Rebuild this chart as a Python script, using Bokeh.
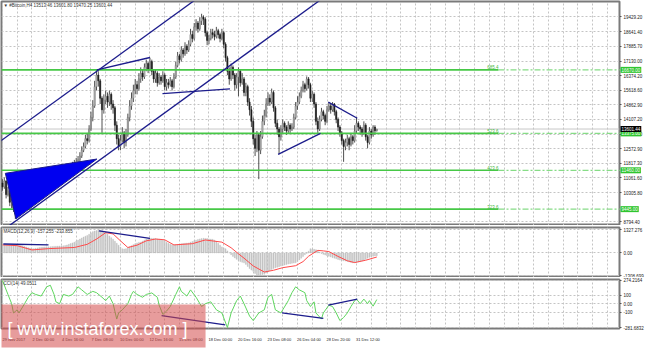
from bokeh.plotting import figure
from bokeh.layouts import column
from bokeh.models import Range1d, FixedTicker, LinearAxis, Label, Span
from bokeh.core.properties import value
from bokeh.embed import file_html
from bokeh.resources import INLINE

FONT = "Liberation Sans"

# ---------------- price data (H4 bars, index 0 = 29 Nov 2017 08:00) ----------------
open0 = 10800
close = [10600, 10900, 10200, 10400, 9800, 10000, 9500, 9200, 9600, 9800,
         9700, 9500, 9900, 10000, 10300, 10200, 10600, 10500, 10700, 10900,
         10700, 10800, 10900, 11000, 10800, 11200, 11100, 11000, 11200, 11100,
         11300, 11200, 11400, 11300, 11500, 11400, 11600, 11500, 11700, 11800,
         11900, 12000, 12200, 12500, 12700, 13100, 13000, 13600, 14200, 14800,
         15800, 16400, 16100, 15200, 14600, 15100, 15300, 15000, 15400, 14900,
         14700, 13800, 13100, 12700, 13000, 13400, 12900, 13300, 14200, 14800,
         15200, 15600, 15900, 15700, 16200, 16500, 16300, 16800, 17000, 16700,
         17100, 16600, 16200, 16500, 16000, 16300, 16100, 16400, 15800, 16000,
         15900, 16100, 15800, 16300, 16900, 17400, 17200, 17700, 17500, 17900,
         17700, 18000, 18500, 18300, 18900, 19100, 18800, 19200, 19400, 19300,
         18600, 18200, 18300, 18600, 18500, 18400, 18700, 18500, 18300, 18600,
         18000, 17300, 16600, 16200, 16800, 16400, 15900, 16300, 16600, 16000,
         16200, 15500, 15800, 15000, 14600, 14000, 13100, 12600, 13300, 12500,
         13200, 14000, 14300, 14900, 15200, 15000, 15500, 14700, 13900, 13600,
         13200, 13600, 13900, 13700, 13500, 13800, 13600, 13700, 14200, 14800,
         15000, 15300, 15600, 15900, 15700, 16200, 15900, 15200, 15400, 14900,
         14000, 13600, 14100, 14500, 14300, 14000, 14600, 14800, 14600, 14900,
         14500, 14100, 13700, 13400, 13000, 12700, 12900, 13100, 12800, 13200,
         13000, 13500, 13900, 13700, 13600, 13400, 13800, 13200, 12900, 13500,
         13300, 13700, 13513.46, 13601.44]
high = [11000, 11100, 10950, 10600, 10500, 10200, 10100, 9700, 9800, 10000,
        10100, 9900, 10100, 10300, 10500, 10500, 10800, 10800, 10900, 11100,
        11000, 11000, 11100, 11200, 11100, 11500, 11400, 11300, 11400, 11300,
        11500, 11400, 11600, 11500, 11700, 11600, 11800, 11700, 11900, 12000,
        12100, 12200, 12400, 12700, 12900, 13300, 13400, 13800, 14500, 15100,
        16100, 16670, 16600, 16200, 15300, 15400, 15600, 15500, 15600, 15500,
        15100, 14800, 14000, 13300, 13300, 13700, 13500, 13600, 14400, 15100,
        15500, 15900, 16200, 16100, 16500, 16800, 16700, 17000, 17200, 17100,
        17300, 17200, 16700, 16700, 16600, 16500, 16400, 16600, 16500, 16200,
        16200, 16300, 16200, 16500, 17100, 17600, 17500, 17900, 17800, 18100,
        18000, 18200, 18800, 18700, 19100, 19300, 19200, 19400, 19580, 19500,
        19400, 18700, 18500, 18800, 18800, 18700, 18900, 18800, 18600, 18800,
        18700, 18100, 17400, 16800, 17000, 16900, 16500, 16500, 16800, 16700,
        16500, 16300, 16000, 15900, 15200, 14800, 14200, 13300, 13500, 13400,
        13500, 14300, 14600, 15200, 15500, 15400, 15700, 15600, 14800, 14100,
        13700, 13800, 14100, 14000, 13800, 14000, 13900, 13900, 14400, 15000,
        15300, 15500, 15800, 16100, 16000, 16330, 16300, 16000, 15600, 15500,
        15000, 14200, 14300, 14700, 14600, 14400, 14800, 15000, 14900, 15000,
        14950, 14600, 14200, 13800, 13500, 13100, 13100, 13300, 13200, 13400,
        13300, 13800, 14200, 14000, 13800, 13700, 14000, 13900, 13300, 13700,
        13600, 13800, 13800, 13601.80]
low = [10400, 10500, 10000, 10100, 9600, 9500, 9300, 8940, 9100, 9400,
       9500, 9300, 9400, 9700, 9900, 10000, 10100, 10300, 10400, 10600,
       10500, 10600, 10700, 10800, 10600, 10700, 10900, 10800, 10900, 10900,
       11000, 11000, 11100, 11100, 11200, 11200, 11300, 11300, 11400, 11600,
       11700, 11800, 11900, 12100, 12400, 12600, 12800, 12900, 13500, 14000,
       14700, 15600, 15800, 14900, 13400, 14400, 14900, 14700, 14800, 14600,
       14400, 13500, 12800, 12500, 12500, 12900, 12600, 12700, 13200, 14000,
       14600, 15000, 15400, 15400, 15600, 16000, 16100, 16200, 16600, 16500,
       16600, 16400, 16000, 16000, 15800, 15900, 15900, 16000, 15600, 15600,
       15700, 15800, 15600, 15700, 16200, 16800, 17000, 17100, 17300, 17400,
       17500, 17600, 17900, 18100, 18200, 18700, 18600, 18700, 19000, 19000,
       18400, 17950, 18000, 18200, 18300, 18200, 18300, 18300, 18100, 18200,
       17800, 17100, 16400, 15900, 16100, 16200, 15600, 15700, 15300, 15800,
       15900, 15300, 15300, 14800, 14300, 13700, 12800, 12200, 12400, 11000,
       12300, 13100, 13800, 14200, 14800, 14800, 14900, 14500, 13700, 13300,
       12300, 13000, 13400, 13500, 13300, 13400, 13400, 13500, 13600, 14100,
       14600, 14900, 15200, 15500, 15500, 15600, 15700, 15000, 15000, 14700,
       13800, 13400, 13500, 14000, 14100, 13800, 13900, 14500, 14400, 14500,
       14300, 13900, 13500, 13200, 12800, 11900, 12500, 12700, 12500, 12700,
       12800, 12900, 13400, 13500, 13300, 13200, 13300, 13000, 12600, 12800,
       13100, 13200, 13300, 13470.25]

# MACD(12,26,9) main values as histogram, one per bar
macd_hist = [460, 455, 450, 440, 430, 420, 430, 440, 455, 465,
             450, 420, 380, 340, 300, 270, 245, 250, 270, 290,
             310, 330, 340, 350, 355, 355, 360, 370, 380, 390,
             395, 400, 405, 410, 430, 460, 500, 540, 580, 625,
             680, 740, 800, 860, 920, 970, 1010, 1080, 1160, 1230,
             1270, 1290, 1310, 1327, 1300, 1255, 1180, 1080, 980, 880,
             790, 680, 560, 450, 340, 245, 230, 250, 300, 360,
             420, 480, 530, 580, 610, 625, 680, 740, 800, 830,
             845, 850, 840, 830, 810, 800, 790, 740, 680, 620,
             560, 510, 480, 465, 470, 490, 510, 530, 550, 560,
             570, 580, 620, 660, 700, 740, 780, 810, 830, 845,
             840, 830, 810, 800, 790, 740, 660, 560, 450, 350,
             290, 245, 120, 0, -100, -200, -290, -370, -440, -500,
             -540, -570, -660, -780, -900, -990, -1060, -1180, -1308, -1290,
             -1260, -1240, -1225, -1160, -1090, -1010, -950, -900, -860, -820,
             -790, -760, -735, -700, -670, -640, -620, -600, -585, -570,
             -500, -400, -300, -200, -100, -25, 100, 245, 230, 210,
             190, 120, 50, -25, -80, -120, -160, -190, -230, -270,
             -300, -340, -380, -410, -440, -455, -465, -490, -520, -550,
             -570, -560, -540, -520, -500, -465, -420, -360, -300, -250,
             -220, -190, -170, -157.255]
# signal line, read at sampled bars
sig_bar = [0, 8, 16, 25, 39, 46, 51, 56, 60, 64, 68, 73, 78, 83, 88, 93, 103, 110, 119,
           124, 128, 131, 136, 142, 147, 152, 159, 163, 166, 171, 174, 177, 182, 187, 191, 197, 203]
sig_val = [465, 420, 175, 250, 315, 500, 800, 1170, 1100, 700, 315, 450, 700, 805, 760, 465, 535, 750, 625,
           300, -50, -300, -750, -1100, -1000, -850, -735, -500, -190, 150, 120, 80, -200, -450, -555, -420, -233.855]

# CCI(14), read at sampled bars
cci_bar = [0, 3, 5, 6, 8, 9, 12, 14, 16, 18, 21, 24, 26, 28, 29, 31, 33, 36, 38, 41, 43, 46, 49,
           51, 54, 56, 58, 60, 62, 63, 65, 68, 70, 71, 73, 76, 78, 81, 84, 85, 87, 89, 91,
           94, 96, 97, 100, 102, 105, 108, 110, 113, 116, 119, 122, 124, 127, 129, 131,
           134, 136, 139, 142, 144, 146, 148, 151, 152, 155, 157, 159, 161, 164, 165, 167,
           169, 170, 173, 174, 177, 179, 181, 183, 185, 187, 189, 191, 192, 194, 196, 198,
           199, 201, 203]
cci_val = [274, 109, 0, -109, -72, -109, 0, 76, 130, 109, 90, 199, 217, 109, 22, 0, 109, 90, 109, 199, 163, 109, 145,
           130, 76, 36, 90, 0, -181, -109, -72, 0, 109, 145, 109, 76, 109, 127, 76, -18, -127, -87, -33,
           109, 199, 145, 90, 163, 76, -33, 0, 22, -72, -109, -281, -109, 36, 90, 0,
           -145, -199, -109, -72, 76, 109, -72, -109, -72, 36, 130, 199, 163, 130, 36, -33,
           22, -109, -181, -109, -18, -33, -109, -199, -163, -109, -33, 36, 54, 0, 54, 0,
           36, -29, 49.0511]

# axis ticks / labels
price_ticks = [19429.20, 18641.40, 17885.70, 17130.00, 16374.20, 15618.60, 14862.90, 14107.20,
               13328.90, 12572.90, 11817.30, 11061.60, 10305.80, 8794.40]
price_labels = ["19429.20", "18641.40", "17885.70", "17130.00", "16374.20", "15618.60", "14862.90",
                "14107.20", "13328.90", "12572.90", "11817.30", "11061.60", "10305.80", "8794.40"]
time_ticks = [0, 16, 32, 48, 64, 80, 96, 112, 128, 144, 160, 176, 192]
time_labels = ["29 Nov 2017", "2 Dec 00:00", "4 Dec 16:00", "7 Dec 08:00", "10 Dec 00:00",
               "12 Dec 16:00", "15 Dec 08:00", "18 Dec 00:00", "20 Dec 16:00", "23 Dec 08:00",
               "26 Dec 04:00", "28 Dec 20:00", "31 Dec 12:00"]
macd_ticks = [1327.276, 0.0, -1308.699]
macd_labels = ["1327.276", "0.00", "-1308.699"]
cci_ticks = [274.2164, 100, 0, -100, -281.6832]
cci_labels = ["274.2164", "100", "0.00", "-100", "-281.6832"]

# Fibonacci expansion levels
fib_names = ["685.4", "523.6", "423.6", "323.6"]
fib_levels = [16670.0, 13375.0, 11460.0, 9445.0]
fib_tags = ["16670.00", "13375.00", "11460.00", "9445.00"]
last_price = 13601.44
last_tag = "13601.44"

# hand-drawn trend objects (bar index, value)
ch_up_x, ch_up_y = [-1, 130], [12980, 22070]
ch_dn_x, ch_dn_y = [3, 172], [8540, 20270]
wedge_x, wedge_y = [1.6, 51.2, 7.3], [11305, 12043, 8941]
flag_hi_x, flag_hi_y = [51.2, 80], [16672, 17312]
flag_lo_x, flag_lo_y = [86.8, 123.4], [15441, 15687]
tri_lo_x, tri_lo_y = [149.5, 172.5], [12289, 13372]
tri_hi_x, tri_hi_y = [176.7, 192.4], [14998, 14160]
macd_l1_x, macd_l1_y = [0.5, 25], [518, 463]
macd_l2_x, macd_l2_y = [52.3, 80], [1281, 845]
cci_l1_x, cci_l1_y = [86.3, 120.8], [-141, -250]
cci_l2_x, cci_l2_y = [151.6, 174], [-109, -174]
cci_l3_x, cci_l3_y = [176.7, 192.4], [-18, 54]

assert len(close) == len(high) == len(low) == len(macd_hist)

# ---------------- figures ----------------
opens = [open0] + close[:-1]
bars = list(range(len(close)))
up_i = [i for i in bars if close[i] >= opens[i]]
dn_i = [i for i in bars if close[i] < opens[i]]

X0, X1 = -0.5, 334.6
xr = Range1d(X0, X1)
FW = 618
GRID_X = list(range(0, 336, 8))
NAVY = "#1c1c8c"
GRID = "#c4c4c4"


def make(fh, yr, top, ticks, labels):
    f = figure(frame_width=FW, frame_height=fh, x_range=xr, y_range=yr,
               output_backend="svg", toolbar_location=None, y_axis_location="right",
               min_border_left=1, min_border_right=27, min_border_top=top, min_border_bottom=0,
               background_fill_color="white", border_fill_color="white",
               outline_line_color="#7a7a7a", outline_line_width=2)
    f.xaxis.visible = False
    f.xaxis.ticker = FixedTicker(ticks=GRID_X)
    ya = f.yaxis[0]
    ya.ticker = FixedTicker(ticks=ticks)
    ya.major_label_overrides = {t: s for t, s in zip(ticks, labels)}
    ya.major_label_text_font_size = "4.5px"
    ya.major_label_text_font = FONT
    ya.major_label_text_color = "#222222"
    ya.major_tick_out = 2
    ya.major_tick_in = 0
    ya.major_tick_line_color = "#555555"
    ya.minor_tick_line_color = None
    ya.axis_line_color = None
    ya.major_label_standoff = 2
    for g in (f.xgrid[0], f.ygrid[0]):
        g.grid_line_color = GRID
        g.grid_line_dash = "2 2"
        g.grid_line_width = 1
    return f


def header(f, text, y):
    f.add_layout(Label(x=X0, y=y, x_offset=2, y_offset=-1, text=text, text_baseline="top",
                       text_align="left", text_font=FONT, text_font_size="4.5px",
                       text_color="#333333"))


# ---- main price panel ----
PY0, PY1 = 8596, 20217
main = make(224, Range1d(PY0, PY1), 1, price_ticks, price_labels)
main.add_layout(Span(location=last_price, dimension="width", line_color="#c8c8c8",
                     line_width=1, level="underlay"))
main.segment(bars, low, bars, high, line_color="#505050", line_width=1)
main.vbar(x=up_i, top=[close[i] for i in up_i], bottom=[opens[i] for i in up_i], width=0.62,
          fill_color="#cfcfcf", line_color="#707070", line_width=0.6)
main.vbar(x=dn_i, top=[opens[i] for i in dn_i], bottom=[close[i] for i in dn_i], width=0.62,
          fill_color="#1e1e1e", line_color="#1e1e1e", line_width=0.6)

FIB_END = 269
main.segment(x0=[X0 - 1] * 4, y0=fib_levels, x1=[FIB_END] * 4, y1=fib_levels,
             line_color="#46c846", line_width=1.6)
main.segment(x0=[FIB_END] * 4, y0=fib_levels, x1=[X1 + 1] * 4, y1=fib_levels,
             line_color="#86dc86", line_width=1.2, line_dash="6 2 2 2")
main.text(x=[FIB_END] * 4, y=fib_levels, text=fib_names, text_align="right",
          text_baseline="bottom", text_font=value(FONT), text_font_size="4.5px",
          text_color="#46b846", y_offset=-0.5)

main.patch(wedge_x, wedge_y, fill_color="#0000f0", line_color=NAVY, line_width=1)
for lx, ly in [(ch_up_x, ch_up_y), (ch_dn_x, ch_dn_y), (flag_hi_x, flag_hi_y),
               (flag_lo_x, flag_lo_y), (tri_lo_x, tri_lo_y), (tri_hi_x, tri_hi_y)]:
    main.line(lx, ly, line_color=NAVY, line_width=1.3)

# price tags on the axis strip (side panel, so they are not clipped to the frame)
for lvl, tag in zip(fib_levels, fib_tags):
    main.add_layout(Label(x=X1, y=lvl, x_offset=1, text=tag, text_baseline="middle",
                          text_align="left", text_font=FONT, text_font_size="4.5px",
                          text_color="white", background_fill_color="#2fc52f",
                          padding=1), "right")
main.add_layout(Label(x=X1, y=last_price, x_offset=1, text=last_tag, text_baseline="middle",
                      text_align="left", text_font=FONT, text_font_size="4.5px",
                      text_color="white", background_fill_color="#000000", padding=1), "right")
header(main, "\u25bc #Bitcoin,H4  13513.46 13601.80 13470.25 13601.44", PY1)

# ---- MACD panel ----
MY0, MY1 = -1417, 1470
macd = make(50, Range1d(MY0, MY1), 2, macd_ticks, macd_labels)
macd.vbar(x=bars, top=macd_hist, bottom=0, width=0.5, fill_color="#c0c0c0",
          line_color="#c0c0c0", line_width=0.4)
macd.line(sig_bar, sig_val, line_color="#ff4a4a", line_width=1)
for lx, ly in [(macd_l1_x, macd_l1_y), (macd_l2_x, macd_l2_y)]:
    macd.line(lx, ly, line_color=NAVY, line_width=1.3)
header(macd, "MACD(12,26,9) -157.255 -233.855", MY1)

# ---- CCI panel ----
CY0, CY1 = -292, 285
cci = make(49, Range1d(CY0, CY1), 2, cci_ticks, cci_labels)
cci.line(cci_bar, cci_val, line_color="#5fd65f", line_width=1)
for lx, ly in [(cci_l1_x, cci_l1_y), (cci_l2_x, cci_l2_y), (cci_l3_x, cci_l3_y)]:
    cci.line(lx, ly, line_color=NAVY, line_width=1.3)
header(cci, "CCI(14) 49.0511", CY1)

LAB_SHIFT = 6.2
cci.extra_x_ranges = {"lab": Range1d(X0 - LAB_SHIFT, X1 - LAB_SHIFT)}
lab = LinearAxis(x_range_name="lab", ticker=FixedTicker(ticks=time_ticks),
                 major_label_overrides={t: s for t, s in zip(time_ticks, time_labels)},
                 major_tick_line_color=None, minor_tick_line_color=None, axis_line_color=None,
                 major_label_text_font=FONT, major_label_text_font_size="4px",
                 major_label_text_color="#222222", major_label_standoff=2)
cci.add_layout(lab, "below")

cci.add_layout(Label(x=X0, y=CY0, x_offset=0, y_offset=24, text="[  www.instaforex.com  ]",
                     text_baseline="top", text_align="left", text_font=FONT,
                     text_font_size="18px", text_color="white",
                     background_fill_color="#d44a4a", background_fill_alpha=0.55,
                     padding=(6, 8, 14, 9)), "below")

layout = column(main, macd, cci, spacing=0)
open("out.html", "w").write(file_html(layout, INLINE, title="Bitcoin H4"))
